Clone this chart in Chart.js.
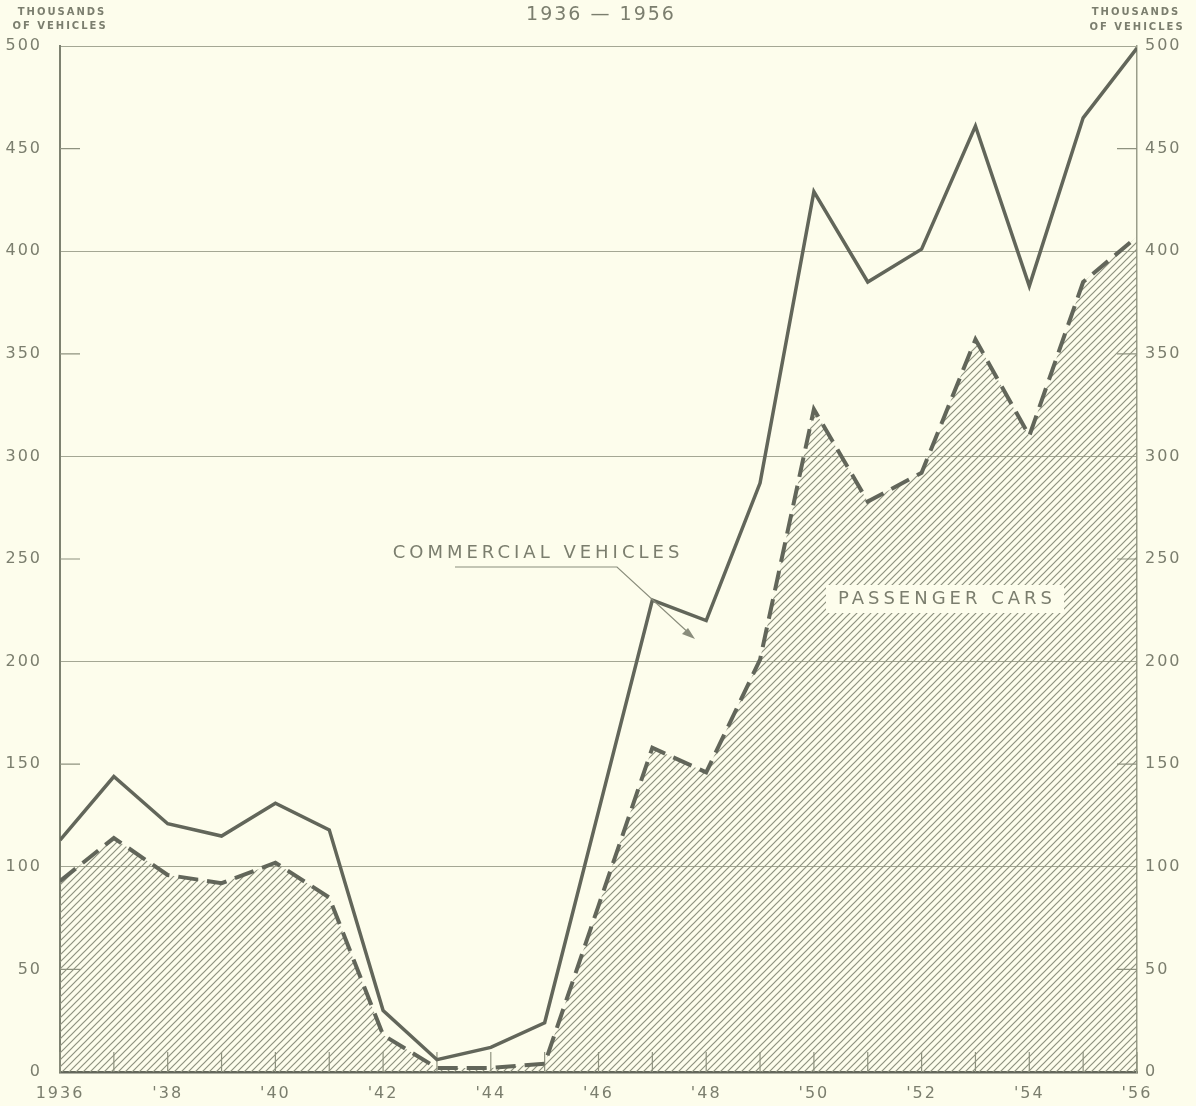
<!DOCTYPE html>
<html>
<head>
<meta charset="utf-8">
<script src="https://cdn.jsdelivr.net/npm/chart.js@4/dist/chart.umd.min.js"></script>
<style>
  body { margin: 0; background: #fdfdec; }
  canvas { display: block; }
</style>
</head>
<body>
<canvas id="carsChart" width="1196" height="1106"></canvas>
<script>
// Data (thousands of vehicles)
const years = [1936, 1937, 1938, 1939, 1940, 1941, 1942, 1943, 1944, 1945, 1946,
  1947, 1948, 1949, 1950, 1951, 1952, 1953, 1954, 1955, 1956];
const allVehicles = [113, 144, 121, 115, 131, 118, 30, 6, 12, 24, 127,
  230, 220, 287, 429, 385, 401, 461, 383, 465, 499];
const passengerCars = [93, 114, 96, 92, 102, 85, 18, 2, 2, 4, 81,
  158, 146, 201, 323, 278, 292, 357, 310, 385, 407];
const yTicks = [0, 50, 100, 150, 200, 250, 300, 350, 400, 450, 500];

const INK = "#62665a";
const TEXT = "#7b7e6e";
const FONT = "'DejaVu Sans', sans-serif";

// hatch pattern for the passenger car area
const tile = document.createElement("canvas");
tile.width = 7;
tile.height = 7;
const tc = tile.getContext("2d");
tc.strokeStyle = "#8e927f";
tc.lineWidth = 1.2;
tc.beginPath();
tc.moveTo(0, 7); tc.lineTo(7, 0);
tc.moveTo(-1, 1); tc.lineTo(1, -1);
tc.moveTo(6, 8); tc.lineTo(8, 6);
tc.stroke();
const hatch = document.getElementById("carsChart").getContext("2d").createPattern(tile, "repeat");

const toPoints = (vals) => vals.map((v, i) => ({ x: years[i], y: v }));

const decor = {
  id: "decor",
  beforeDraw(chart) {
    chart.ctx.letterSpacing = "2px";
  },
  beforeDatasetsDraw(chart) {
    const { ctx, chartArea: a, scales } = chart;
    ctx.save();
    ctx.strokeStyle = "#8e927f";
    ctx.lineWidth = 1.2;
    // year ticks at the bottom
    years.forEach((yr) => {
      const x = scales.x.getPixelForValue(yr);
      ctx.beginPath();
      ctx.moveTo(x, a.bottom);
      ctx.lineTo(x, a.bottom - 20);
      ctx.stroke();
    });
    // short ticks at the odd fifties on both edges
    yTicks.filter((v) => v % 100 === 50).forEach((v) => {
      const y = scales.y.getPixelForValue(v);
      ctx.beginPath();
      ctx.moveTo(a.left, y); ctx.lineTo(a.left + 20, y);
      ctx.moveTo(a.right - 20, y); ctx.lineTo(a.right, y);
      ctx.stroke();
    });
    ctx.restore();
  },
  afterDraw(chart) {
    const { ctx } = chart;
    ctx.save();
    ctx.fillStyle = TEXT;
    ctx.textBaseline = "middle";

    // title
    ctx.letterSpacing = "2px";
    ctx.font = "19px " + FONT;
    ctx.textAlign = "center";
    ctx.fillText("1936 \u2014 1956", 601, 15);

    // axis titles
    ctx.letterSpacing = "2px";
    ctx.font = "bold 10px " + FONT;
    ctx.fillText("THOUSANDS", 62, 12);
    ctx.fillText("OF VEHICLES", 60, 26);
    ctx.fillText("THOUSANDS", 1136, 12);
    ctx.fillText("OF VEHICLES", 1137, 27);

    // passenger cars label on a clear box
    ctx.letterSpacing = "4px";
    ctx.font = "18px " + FONT;
    ctx.fillStyle = "#fdfdec";
    ctx.fillRect(826, 585, 238, 28);
    ctx.fillStyle = TEXT;
    ctx.fillText("PASSENGER CARS", 947, 599);

    // commercial vehicles label with leader
    ctx.fillText("COMMERCIAL VEHICLES", 538, 553);
    ctx.strokeStyle = "#8a8d7c";
    ctx.lineWidth = 1.2;
    ctx.beginPath();
    ctx.moveTo(455, 567);
    ctx.lineTo(617, 567);
    ctx.lineTo(692, 636);
    ctx.stroke();
    ctx.fillStyle = "#8a8d7c";
    ctx.beginPath();
    ctx.moveTo(695, 639);
    ctx.lineTo(682, 634);
    ctx.lineTo(688, 628);
    ctx.closePath();
    ctx.fill();
    ctx.restore();
  },
};

new Chart(document.getElementById("carsChart"), {
  type: "line",
  data: {
    datasets: [
      {
        label: "Commercial vehicles",
        data: toPoints(allVehicles),
        borderColor: INK,
        borderWidth: 3.5,
        pointRadius: 0,
        tension: 0,
        fill: false,
      },
      {
        label: "Passenger cars",
        data: toPoints(passengerCars),
        borderColor: INK,
        borderWidth: 4,
        borderDash: [20, 9],
        pointRadius: 0,
        tension: 0,
        fill: "origin",
        backgroundColor: hatch,
      },
    ],
  },
  options: {
    responsive: false,
    animation: false,
    layout: { padding: { top: 46, left: 0, right: 0, bottom: 0 } },
    plugins: {
      legend: { display: false },
      tooltip: { enabled: false },
    },
    scales: {
      x: {
        type: "linear",
        min: 1936,
        max: 1956,
        grid: { display: false, drawTicks: false },
        border: { display: true, color: INK, width: 2.5 },
        ticks: {
          stepSize: 2,
          autoSkip: false,
          maxRotation: 0,
          padding: 12,
          color: TEXT,
          font: { family: FONT, size: 16 },
          callback: (v) => (v === 1936 ? "1936" : "'" + String(v).slice(2)),
        },
        afterFit: (s) => { s.height = 34; },
      },
      y: {
        position: "left",
        min: 0,
        max: 500,
        grid: {
          drawTicks: false,
          color: (c) => (c.tick && c.tick.value % 100 === 0 ? "#a4a794" : "rgba(0,0,0,0)"),
          lineWidth: 1,
        },
        border: { display: true, color: "#7d8170", width: 2 },
        ticks: {
          stepSize: 50,
          padding: 18,
          color: TEXT,
          font: { family: FONT, size: 16 },
        },
        afterFit: (s) => { s.width = 60; },
      },
      y2: {
        position: "right",
        min: 0,
        max: 500,
        grid: { display: false, drawTicks: false },
        border: { display: true, color: "#9a9d8a", width: 1.5 },
        ticks: {
          stepSize: 50,
          padding: 8,
          color: TEXT,
          font: { family: FONT, size: 16 },
        },
        afterFit: (s) => { s.width = 59; },
      },
    },
  },
  plugins: [decor],
});
</script>
</body>
</html>
